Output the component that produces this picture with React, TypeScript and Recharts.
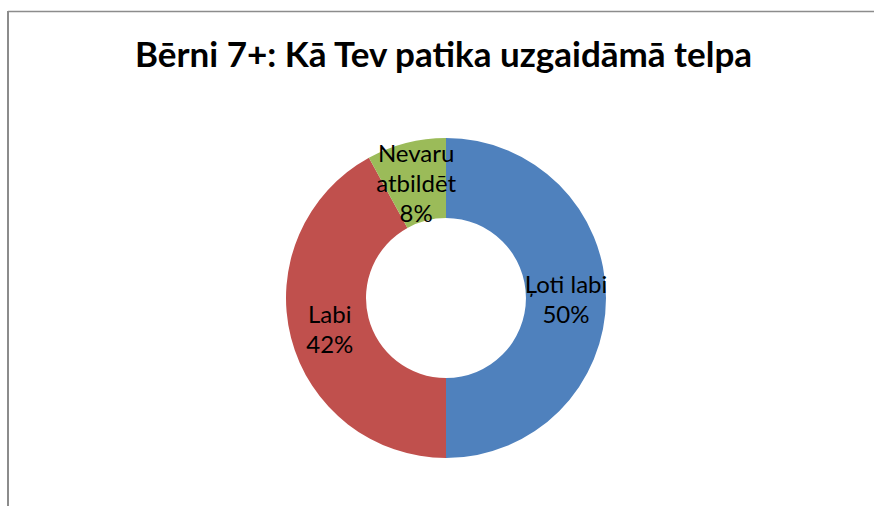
import React from "react";
import { PieChart, Pie, Cell } from "recharts";

const categories = ["Ļoti labi", "Labi", "Nevaru\natbildēt"];
const values = [50, 42, 8];
const colors = ["#4F81BD", "#C0504D", "#9BBB59"];
const title = "Bērni 7+: Kā Tev patika uzgaidāmā telpa";

const data = categories.map((name, i) => ({ name, value: values[i] }));

const RADIAN = Math.PI / 180;
const FONT = "Lato, 'Open Sans', sans-serif";

const renderLabel = (props: any) => {
  const { cx, cy, midAngle, innerRadius, outerRadius, percent, name } = props;
  const r = (innerRadius + outerRadius) / 2;
  const x = cx + r * Math.cos(-midAngle * RADIAN);
  const y = cy + r * Math.sin(-midAngle * RADIAN);
  const lines = [...String(name).split("\n"), `${Math.round(percent * 100)}%`];
  const lh = 30;
  const startY = y - ((lines.length - 1) * lh) / 2;
  return (
    <text
      x={x}
      y={startY}
      textAnchor="middle"
      dominantBaseline="central"
      fill="#000"
      fontFamily={FONT}
      fontSize={24}
    >
      {lines.map((l, i) => (
        <tspan key={i} x={x} y={startY + i * lh} dominantBaseline="central">
          {l}
        </tspan>
      ))}
    </text>
  );
};

export default function App() {
  return (
    <div
      style={{
        position: "relative",
        width: 874,
        height: 506,
        overflow: "hidden",
        background: "#fff",
      }}
    >
      <style>{`html,body{margin:0;padding:0;overflow:hidden;background:#fff}`}</style>
      <svg
        width={874}
        height={506}
        style={{ position: "absolute", left: 0, top: 0 }}
      >
        <line x1={8} y1={11.5} x2={874} y2={11.5} stroke="#8c8c8c" strokeWidth={1.3} />
        <line x1={8} y1={11} x2={8} y2={506} stroke="#8c8c8c" strokeWidth={2} />
        <text
          x={443.5}
          y={67}
          textAnchor="middle"
          fontFamily={FONT}
          fontWeight="bold"
          fontSize={35}
          fill="#000"
        >
          {title}
        </text>
      </svg>
      <div style={{ position: "absolute", left: 0, top: 0 }}>
        <PieChart
          width={874}
          height={506}
          margin={{ top: 0, right: 0, bottom: 0, left: 0 }}
        >
          <Pie
            data={data}
            dataKey="value"
            nameKey="name"
            cx={446}
            cy={298}
            innerRadius={80}
            outerRadius={160}
            startAngle={90}
            endAngle={-270}
            stroke="none"
            label={renderLabel}
            labelLine={false}
            isAnimationActive={false}
          >
            {data.map((d, i) => (
              <Cell key={d.name} fill={colors[i]} />
            ))}
          </Pie>
        </PieChart>
      </div>
    </div>
  );
}
